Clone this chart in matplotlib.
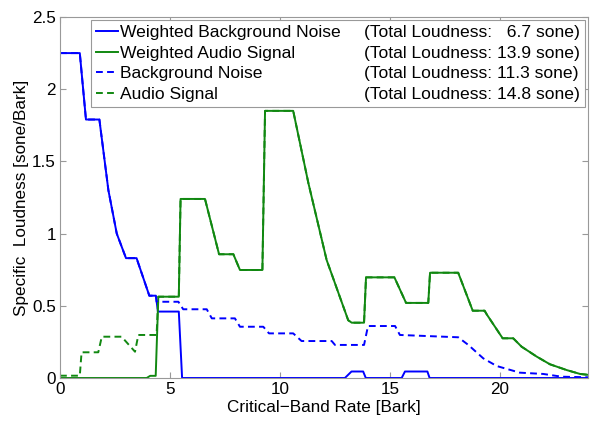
import matplotlib.pyplot as plt
from matplotlib.lines import Line2D

plt.rcParams["font.family"] = ["Liberation Sans", "DejaVu Sans"]

# Weighted background noise (solid blue)
wbn_x = [0, 0.9, 1.18, 1.79, 2.2, 2.58, 3.0, 3.48, 4.06, 4.36, 4.45, 5.4, 5.55,
         12.95, 13.25, 13.78, 13.9, 15.53, 15.68, 16.7, 16.8, 24]
wbn_y = [2.25, 2.25, 1.79, 1.79, 1.30, 1.00, 0.83, 0.83, 0.57, 0.57, 0.46, 0.46, 0,
         0, 0.045, 0.045, 0, 0, 0.045, 0.045, 0, 0]

# Weighted audio signal (solid green)
was_x = [0, 3.94, 4.1, 4.35, 4.47, 5.4, 5.48, 6.59, 7.23, 7.88, 8.18, 9.2, 9.32,
         10.6, 11.29, 12.12, 13.1, 13.26, 13.82, 13.91, 15.2, 15.73, 16.74, 16.82,
         18.1, 18.76, 19.3, 19.4, 20.12, 20.6, 20.98, 21.67, 22.27, 23.03, 23.64, 24]
was_y = [0, 0, 0.015, 0.015, 0.563, 0.563, 1.24, 1.24, 0.857, 0.857, 0.748, 0.748, 1.85,
         1.85, 1.35, 0.817, 0.40, 0.383, 0.383, 0.697, 0.697, 0.52, 0.52, 0.729,
         0.729, 0.466, 0.466, 0.44, 0.275, 0.275, 0.217, 0.148, 0.095, 0.055, 0.028, 0.022]

# Background noise (dashed blue)
bn_x = [0, 0.9, 1.18, 1.79, 2.2, 2.58, 3.0, 3.48, 4.06, 4.36, 4.39, 5.38, 5.6,
        6.67, 6.9, 7.95, 8.18, 9.24, 9.5, 10.6, 10.98, 12.35, 12.5, 13.82, 14.0,
        15.23, 15.45, 18.1, 18.56, 19.24, 19.85, 20.9, 21.97, 22.8, 24]
bn_y = [2.25, 2.25, 1.79, 1.79, 1.30, 1.00, 0.83, 0.83, 0.57, 0.57, 0.528, 0.528, 0.476,
        0.476, 0.413, 0.413, 0.355, 0.355, 0.309, 0.309, 0.256, 0.256, 0.229, 0.229, 0.36,
        0.36, 0.298, 0.282, 0.229, 0.136, 0.083, 0.037, 0.028, 0.009, 0.005]

# Audio signal (dashed green)
as_x = [0, 0.9, 0.98, 1.74, 1.9, 2.8, 3.41, 3.56, 4.39, 4.47, 5.4, 5.48, 6.59,
        7.23, 7.88, 8.18, 9.2, 9.32, 10.6, 11.29, 12.12, 13.1, 13.26, 13.82, 13.91,
        15.2, 15.73, 16.74, 16.82, 18.1, 18.76, 19.3, 19.4, 20.12, 20.6, 20.98,
        21.67, 22.27, 23.03, 23.64, 24]
as_y = [0.016, 0.016, 0.178, 0.178, 0.286, 0.286, 0.182, 0.298, 0.298, 0.563, 0.563,
        1.24, 1.24, 0.857, 0.857, 0.748, 0.748, 1.85, 1.85, 1.35, 0.817, 0.40, 0.383,
        0.383, 0.697, 0.697, 0.52, 0.52, 0.729, 0.729, 0.466, 0.466, 0.44, 0.275,
        0.275, 0.217, 0.148, 0.095, 0.055, 0.028, 0.022]

labels = ["Weighted Background Noise", "Weighted Audio Signal",
          "Background Noise", "Audio Signal"]
totals = ["(Total Loudness:   6.7 sone)", "(Total Loudness: 13.9 sone)",
          "(Total Loudness: 11.3 sone)", "(Total Loudness: 14.8 sone)"]

blue = "#0000ff"
green = "#118811"
dash = (0, (3.5, 2.2))
fs = 12.3

fig = plt.figure(figsize=(5.93, 4.21), dpi=100)
ax = fig.add_axes([60 / 593, 1 - 378 / 421, 528 / 593, 361 / 421])

l1, = ax.plot(wbn_x, wbn_y, color=blue, lw=1.4)
l2, = ax.plot(was_x, was_y, color=green, lw=1.4)
l3, = ax.plot(bn_x, bn_y, color=blue, lw=1.4, linestyle=dash)
l4, = ax.plot(as_x, as_y, color=green, lw=1.4, linestyle=dash)

ax.set_xlim(0, 24)
ax.set_ylim(0, 2.5)
ax.set_xticks([0, 5, 10, 15, 20])
ax.set_yticks([0, 0.5, 1, 1.5, 2, 2.5])
ax.set_yticklabels(["0", "0.5", "1", "1.5", "2", "2.5"])
ax.tick_params(direction="in", length=4, top=True, right=True, labelsize=fs,
               color="#999999", pad=3)
for s in ax.spines.values():
    s.set_color("#999999")
    s.set_linewidth(0.8)

ax.set_xlabel("Critical\u2212Band Rate [Bark]", fontsize=fs, labelpad=2)
ax.set_ylabel("Specific  Loudness [sone/Bark]", fontsize=fs, labelpad=2)

blank = [Line2D([], [], linestyle="none") for _ in totals]
leg = ax.legend([l1, l2, l3, l4] + blank, labels + totals, ncol=2,
                loc="upper right", fontsize=12.6, frameon=True, fancybox=False,
                edgecolor="#999999", framealpha=1, borderaxespad=0.15,
                handlelength=1.25, handletextpad=0.1, columnspacing=0.0,
                labelspacing=0.3, borderpad=0.3)
leg.get_frame().set_linewidth(0.8)

fig.savefig("out.png", dpi=100)
